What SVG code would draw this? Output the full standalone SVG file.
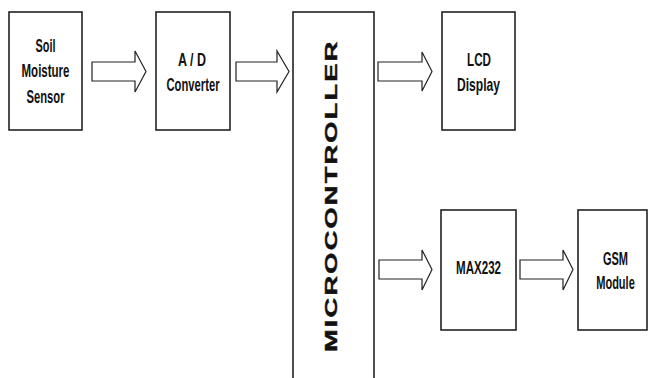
<svg xmlns="http://www.w3.org/2000/svg" width="649" height="378" viewBox="0 0 649 378">
<style>
.box{fill:#fff;stroke:#222;stroke-width:1.6}
.arr{fill:#fff;stroke:#222;stroke-width:1.2;stroke-linejoin:miter}
.lbl{font-family:"Liberation Sans",Arial,sans-serif;font-weight:bold;font-size:19px;fill:#111;text-anchor:middle}
.mc{font-family:"Liberation Sans",Arial,sans-serif;font-weight:bold;font-size:16px;letter-spacing:1.3px;fill:#111;stroke:#111;stroke-width:0.4}
</style>
<rect width="649" height="378" fill="#fff"/>
<g id="connectors">
<polygon class="arr" points="92,62 135,62 135,51 146,71.5 135,92 135,81 92,81"/>
<polygon class="arr" points="236,62 277,62 277,51 289,71.5 277,92 277,81 236,81"/>
<polygon class="arr" points="378,62 422,62 422,52 432,71.5 422,91 422,81 378,81"/>
<polygon class="arr" points="379,260 422,260 422,250 432,269.5 422,290 422,279 379,279"/>
<polygon class="arr" points="520,260 563,260 563,250 573,269.5 563,290 563,279 520,279"/>
</g>
<g id="soil">
<rect class="box" x="9" y="12" width="73" height="118"/>
<text class="lbl" x="45.5" y="52" textLength="20" lengthAdjust="spacingAndGlyphs">Soil</text>
<text class="lbl" x="45.5" y="77" textLength="48" lengthAdjust="spacingAndGlyphs">Moisture</text>
<text class="lbl" x="45.5" y="103" textLength="38" lengthAdjust="spacingAndGlyphs">Sensor</text>
</g>
<g id="adc">
<rect class="box" x="156" y="12" width="74" height="118"/>
<text class="lbl" x="192" y="66" textLength="28" lengthAdjust="spacingAndGlyphs">A / D</text>
<text class="lbl" x="193" y="91" textLength="53" lengthAdjust="spacingAndGlyphs">Converter</text>
</g>
<g id="mcu">
<rect class="box" x="293" y="12" width="81" height="380"/>
<text class="mc" transform="translate(337,352) rotate(-90) scale(1.7,1)">MICROCONTROLLER</text>
</g>
<g id="lcd">
<rect class="box" x="442" y="12" width="73" height="118"/>
<text class="lbl" x="479" y="66" textLength="24" lengthAdjust="spacingAndGlyphs">LCD</text>
<text class="lbl" x="478.5" y="91" textLength="43" lengthAdjust="spacingAndGlyphs">Display</text>
</g>
<g id="max232">
<rect class="box" x="441" y="210" width="75" height="120"/>
<text class="lbl" x="478.5" y="274" textLength="45" lengthAdjust="spacingAndGlyphs">MAX232</text>
</g>
<g id="gsm">
<rect class="box" x="578" y="210" width="69" height="120"/>
<text class="lbl" transform="translate(615.5,265) scale(0.58,1)">GSM</text>
<text class="lbl" transform="translate(615.5,289) scale(0.58,1)">Module</text>
</g>
</svg>
